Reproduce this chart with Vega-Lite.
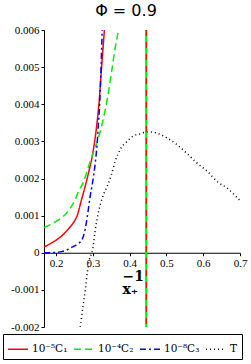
{
  "$schema": "https://vega.github.io/schema/vega-lite/v6.json",
  "width": 196,
  "height": 297,
  "autosize": "none",
  "padding": {"left": 44, "top": 30, "right": 11, "bottom": 37},
  "background": "white",
  "title": {"text": "Φ = 0.9", "font": "DejaVu Sans", "fontSize": 16, "fontWeight": "normal", "anchor": "middle", "dx": -16, "offset": 5, "color": "black"},
  "config": {
    "view": {"stroke": null},
    "axis": {"grid": false, "labelFont": "Liberation Serif", "labelFontSize": 11, "labelColor": "black", "domainColor": "black", "tickColor": "black", "tickSize": 3, "labelOverlap": false, "labelFlush": false}
  },
  "encoding": {
    "x": {"field": "x", "type": "quantitative",
      "scale": {"domain": [0.1667, 0.7], "nice": false, "zero": false},
      "axis": {"values": [0.2, 0.3, 0.4, 0.5, 0.6, 0.7], "labelExpr": "format(datum.value, '.1f')", "offset": -74.25, "labelPadding": 2, "labelOverlap": false, "labelFlush": false, "labelBound": false,
        "title": ["\u00a0−1", "x₊"], "titleFont": "DejaVu Serif", "titleFontWeight": "bold", "titleFontSize": 14, "titleLineHeight": 13, "titleColor": "black",
        "titleX": 78, "titleY": 28, "titleAlign": "left", "titleBaseline": "alphabetic"}}
  },
  "layer": [
    {
      "data": {"values": [
        {"s": "10⁻⁵C₁", "x": 0.167, "y": 0.00016},
        {"s": "10⁻⁵C₁", "x": 0.185, "y": 0.00025},
        {"s": "10⁻⁵C₁", "x": 0.204, "y": 0.00037},
        {"s": "10⁻⁵C₁", "x": 0.22, "y": 0.0005},
        {"s": "10⁻⁵C₁", "x": 0.233, "y": 0.00064},
        {"s": "10⁻⁵C₁", "x": 0.246, "y": 0.0008},
        {"s": "10⁻⁵C₁", "x": 0.257, "y": 0.001},
        {"s": "10⁻⁵C₁", "x": 0.268, "y": 0.0014},
        {"s": "10⁻⁵C₁", "x": 0.279, "y": 0.0018},
        {"s": "10⁻⁵C₁", "x": 0.289, "y": 0.0022},
        {"s": "10⁻⁵C₁", "x": 0.298, "y": 0.0026},
        {"s": "10⁻⁵C₁", "x": 0.306, "y": 0.0031},
        {"s": "10⁻⁵C₁", "x": 0.311, "y": 0.0035},
        {"s": "10⁻⁵C₁", "x": 0.317, "y": 0.0041},
        {"s": "10⁻⁵C₁", "x": 0.322, "y": 0.0048},
        {"s": "10⁻⁵C₁", "x": 0.328, "y": 0.0056},
        {"s": "10⁻⁵C₁", "x": 0.331, "y": 0.006},
        {"s": "10⁻⁵C₁", "x": 0.336, "y": 0.0068},
        {"s": "10⁻⁴C₂", "x": 0.167, "y": 0.00068},
        {"s": "10⁻⁴C₂", "x": 0.19, "y": 0.00079},
        {"s": "10⁻⁴C₂", "x": 0.21, "y": 0.00091},
        {"s": "10⁻⁴C₂", "x": 0.229, "y": 0.00108},
        {"s": "10⁻⁴C₂", "x": 0.25, "y": 0.0014},
        {"s": "10⁻⁴C₂", "x": 0.263, "y": 0.0017},
        {"s": "10⁻⁴C₂", "x": 0.274, "y": 0.0019},
        {"s": "10⁻⁴C₂", "x": 0.287, "y": 0.0023},
        {"s": "10⁻⁴C₂", "x": 0.301, "y": 0.0027},
        {"s": "10⁻⁴C₂", "x": 0.315, "y": 0.0031},
        {"s": "10⁻⁴C₂", "x": 0.328, "y": 0.0036},
        {"s": "10⁻⁴C₂", "x": 0.34, "y": 0.0042},
        {"s": "10⁻⁴C₂", "x": 0.351, "y": 0.0049},
        {"s": "10⁻⁴C₂", "x": 0.36, "y": 0.0055},
        {"s": "10⁻⁴C₂", "x": 0.369, "y": 0.006},
        {"s": "10⁻⁴C₂", "x": 0.375, "y": 0.0065},
        {"s": "10⁻⁸C₃", "x": 0.167, "y": 0.0},
        {"s": "10⁻⁸C₃", "x": 0.2, "y": 0.00001},
        {"s": "10⁻⁸C₃", "x": 0.215, "y": 0.00003},
        {"s": "10⁻⁸C₃", "x": 0.23, "y": 0.00008},
        {"s": "10⁻⁸C₃", "x": 0.243, "y": 0.00015},
        {"s": "10⁻⁸C₃", "x": 0.257, "y": 0.00023},
        {"s": "10⁻⁸C₃", "x": 0.27, "y": 0.00035},
        {"s": "10⁻⁸C₃", "x": 0.278, "y": 0.0006},
        {"s": "10⁻⁸C₃", "x": 0.285, "y": 0.001},
        {"s": "10⁻⁸C₃", "x": 0.292, "y": 0.0015},
        {"s": "10⁻⁸C₃", "x": 0.299, "y": 0.0019},
        {"s": "10⁻⁸C₃", "x": 0.306, "y": 0.0024},
        {"s": "10⁻⁸C₃", "x": 0.311, "y": 0.0029},
        {"s": "10⁻⁸C₃", "x": 0.315, "y": 0.0035},
        {"s": "10⁻⁸C₃", "x": 0.318, "y": 0.004},
        {"s": "10⁻⁸C₃", "x": 0.321, "y": 0.0047},
        {"s": "10⁻⁸C₃", "x": 0.325, "y": 0.006},
        {"s": "10⁻⁸C₃", "x": 0.328, "y": 0.007},
        {"s": "T", "x": 0.262, "y": -0.0021},
        {"s": "T", "x": 0.265, "y": -0.002},
        {"s": "T", "x": 0.272, "y": -0.0015},
        {"s": "T", "x": 0.279, "y": -0.001},
        {"s": "T", "x": 0.285, "y": -0.0005},
        {"s": "T", "x": 0.29, "y": -0.0002},
        {"s": "T", "x": 0.3, "y": 0.00013},
        {"s": "T", "x": 0.306, "y": 0.0006},
        {"s": "T", "x": 0.313, "y": 0.001},
        {"s": "T", "x": 0.32, "y": 0.0013},
        {"s": "T", "x": 0.33, "y": 0.0016},
        {"s": "T", "x": 0.339, "y": 0.0018},
        {"s": "T", "x": 0.35, "y": 0.0021},
        {"s": "T", "x": 0.36, "y": 0.00245},
        {"s": "T", "x": 0.375, "y": 0.0028},
        {"s": "T", "x": 0.393, "y": 0.003},
        {"s": "T", "x": 0.41, "y": 0.00315},
        {"s": "T", "x": 0.428, "y": 0.0032},
        {"s": "T", "x": 0.445, "y": 0.00325},
        {"s": "T", "x": 0.46, "y": 0.00325},
        {"s": "T", "x": 0.48, "y": 0.0032},
        {"s": "T", "x": 0.5, "y": 0.0031},
        {"s": "T", "x": 0.53, "y": 0.0029},
        {"s": "T", "x": 0.556, "y": 0.00267},
        {"s": "T", "x": 0.585, "y": 0.0024},
        {"s": "T", "x": 0.61, "y": 0.0022},
        {"s": "T", "x": 0.64, "y": 0.0019},
        {"s": "T", "x": 0.665, "y": 0.00174},
        {"s": "T", "x": 0.7, "y": 0.0014}
      ]},
      "mark": {"type": "line", "clip": true, "interpolate": "monotone", "strokeWidth": 1.5},
      "encoding": {
        "y": {"field": "y", "type": "quantitative",
          "scale": {"domain": [-0.002, 0.006], "nice": false, "zero": false},
          "axis": {"values": [-0.002, -0.001, 0, 0.001, 0.002, 0.003, 0.004, 0.005, 0.006], "title": null, "labelPadding": 2, "labelOverlap": false,
            "labelExpr": "datum.value == 0 ? '0' : replace(format(datum.value, '.3f'), '−', '-')"}},
        "color": {"field": "s", "type": "nominal", "title": null,
          "scale": {"domain": ["10⁻⁵C₁", "10⁻⁴C₂", "10⁻⁸C₃", "T"], "range": ["#ff0000", "#00ee00", "#0000ff", "#000000"]},
          "legend": {"orient": "none", "legendX": -41, "legendY": 304, "direction": "horizontal", "columns": 4,
            "strokeColor": "black", "fillColor": "white", "padding": 4, "columnPadding": 3,
            "symbolType": "stroke", "symbolSize": 400, "symbolStrokeWidth": 1.5,
            "labelFont": "DejaVu Serif", "labelFontSize": 10.5, "labelColor": "black", "labelOffset": 3}},
        "strokeDash": {"field": "s", "type": "nominal", "title": null,
          "scale": {"domain": ["10⁻⁵C₁", "10⁻⁴C₂", "10⁻⁸C₃", "T"], "range": [[1, 0], [7, 4], [6, 3, 2, 3], [1, 3]]}},
        "strokeWidth": {"field": "s", "type": "nominal", "legend": null,
          "scale": {"domain": ["10⁻⁵C₁", "10⁻⁴C₂", "10⁻⁸C₃", "T"], "range": [1.5, 1.5, 1.8, 1]}}
      }
    },
    {
      "data": {"values": [{"x": 0.445}]},
      "mark": {"type": "rule", "color": "#00ee00", "strokeWidth": 2.2}
    },
    {
      "data": {"values": [{"x": 0.445}]},
      "mark": {"type": "rule", "color": "#ff0000", "strokeWidth": 1.2, "strokeDash": [6, 6]}
    }
  ]
}
